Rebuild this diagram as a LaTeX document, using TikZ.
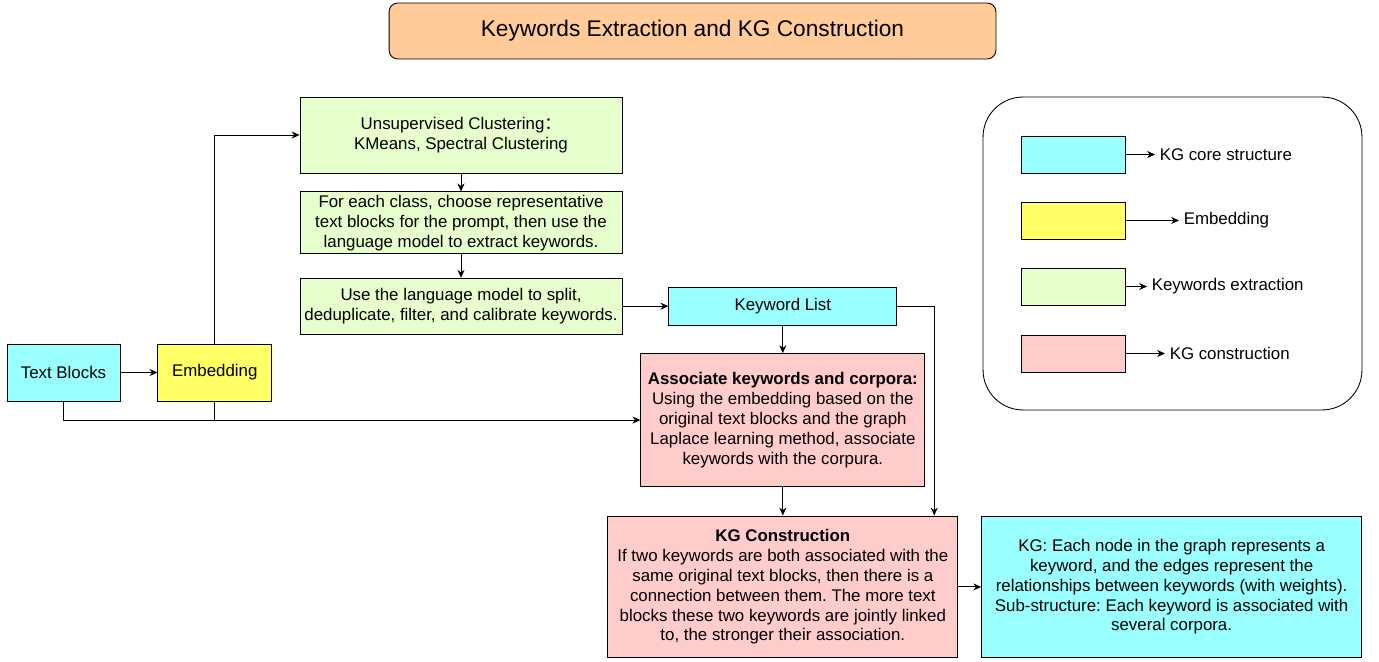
\documentclass[tikz,border=0pt]{standalone}
\usepackage{fontspec}
\setmainfont{Liberation Sans}
\newfontfamily\cjk{Noto Sans CJK SC}
\usetikzlibrary{arrows.meta, positioning}
\usepackage{xcolor}

\definecolor{coreblue}{HTML}{99FFFF}
\definecolor{embyellow}{HTML}{FFFF66}
\definecolor{kwgreen}{HTML}{E6FFCC}
\definecolor{kgpink}{HTML}{FFCCCC}
\definecolor{titleorange}{HTML}{FFCC99}

\begin{document}
\frenchspacing
\begin{tikzpicture}[
        x=0.02cm, y=-0.02cm,
        font=\fontsize{9.6}{11.3}\selectfont,
        box/.style={rectangle, draw, line width=0.5pt, align=center, inner sep=1pt},
        core/.style={box, fill=coreblue},
        embed/.style={box, fill=embyellow},
        extract/.style={box, fill=kwgreen, minimum width=6.44cm},
        construct/.style={box, fill=kgpink},
        legendbox/.style={box, minimum width=2.08cm, minimum height=0.74cm},
        legendlabel/.style={anchor=west, inner sep=2.5pt},
        arrow/.style={line width=0.5pt, -{Stealth[length=4.5pt, width=4pt]}},
        link/.style={line width=0.5pt}
    ]
        \useasboundingbox (0,0) rectangle (1379,662);

        \node [box, fill=titleorange, rounded corners=5pt, minimum width=12.14cm, minimum height=1.12cm, font=\fontsize{12.9}{15}\selectfont] (title) at (692.5,31) {Keywords Extraction and KG Construction};

        % keyword extraction column
        \node [extract, minimum height=1.52cm] (clustering) at (461,135) {Unsupervised Clustering{\cjk ：}\\KMeans, Spectral Clustering};
        \node [extract, minimum height=1.24cm, below=0.36cm of clustering] (choose) {For each class, choose representative\\text blocks for the prompt, then use the\\language model to extract keywords.};
        \node [extract, minimum height=1.12cm, below=0.47cm of choose] (refine) {Use the language model to split,\\deduplicate, filter, and calibrate keywords.};
        \node [core, minimum width=4.56cm, minimum height=0.76cm, right=0.92cm of refine] (kwlist) {Keyword List};

        % KG construction
        \node [construct, minimum width=5.68cm, minimum height=2.66cm, below=0.55cm of kwlist] (associate) {\textbf{Associate keywords and corpora:}\\Using the embedding based on the\\original text blocks and the graph\\Laplace learning method, associate\\keywords with the corpura.};
        \node [construct, minimum width=7cm, minimum height=2.84cm, below=0.57cm of associate] (kgcons) {\textbf{KG Construction}\\If two keywords are both associated with the\\same original text blocks, then there is a\\connection between them. The more text\\blocks these two keywords are jointly linked\\to, the stronger their association.};
        \node [core, minimum width=7.6cm, minimum height=2.84cm, right=0.46cm of kgcons] (kg) {KG: Each node in the graph represents a\\keyword, and the edges represent the\\relationships between keywords (with weights).\\Sub-structure: Each keyword is associated with\\several corpora.};

        % inputs
        \node [core, minimum width=2.26cm, minimum height=1.14cm] (textblocks) at (63.5,372.5) {Text Blocks};
        \node [embed, minimum width=2.28cm, minimum height=1.14cm, right=0.74cm of textblocks] (embedding) {Embedding};

        \draw [arrow] (textblocks) -- (embedding);
        \draw [arrow] (embedding.north) |- (clustering.west);
        \draw [arrow] (clustering) -- (choose);
        \draw [arrow] (choose) -- (refine);
        \draw [arrow] (refine) -- (kwlist);
        \draw [arrow] (kwlist) -- (associate);
        \draw [arrow] (kwlist.east) -| ([xshift=-0.48cm]kgcons.north east);
        \draw [arrow] (textblocks.south) |- (associate.west);
        \draw [link] (embedding.south) -- (embedding.south |- associate.west);
        \draw [arrow] (associate) -- (kgcons);
        \draw [arrow] (kgcons) -- (kg);

        % legend
        \node [box, rounded corners=0.8cm, minimum width=7.58cm, minimum height=6.26cm] (legend) at (1172.5,253.5) {};
        \node [legendbox, fill=coreblue] (lgcore) at (1073,154.5) {};
        \node [legendbox, fill=embyellow] (lgembed) at (1073,220.5) {};
        \node [legendbox, fill=kwgreen] (lgextract) at (1073,286.5) {};
        \node [legendbox, fill=kgpink] (lgconstruct) at (1073,353.5) {};
        \node [legendlabel] (lbcore) at (1155,154.5) {KG core structure};
        \node [legendlabel] (lbembed) at (1179,220.5) {Embedding};
        \node [legendlabel] (lbextract) at (1147,286.5) {Keywords extraction};
        \node [legendlabel] (lbconstruct) at (1165,353.5) {KG construction};
        \draw [arrow] (lgcore) -- (lbcore);
        \draw [arrow] (lgembed) -- (lbembed);
        \draw [arrow] (lgextract) -- (lbextract);
        \draw [arrow] (lgconstruct) -- (lbconstruct);
    \end{tikzpicture}
\end{document}
